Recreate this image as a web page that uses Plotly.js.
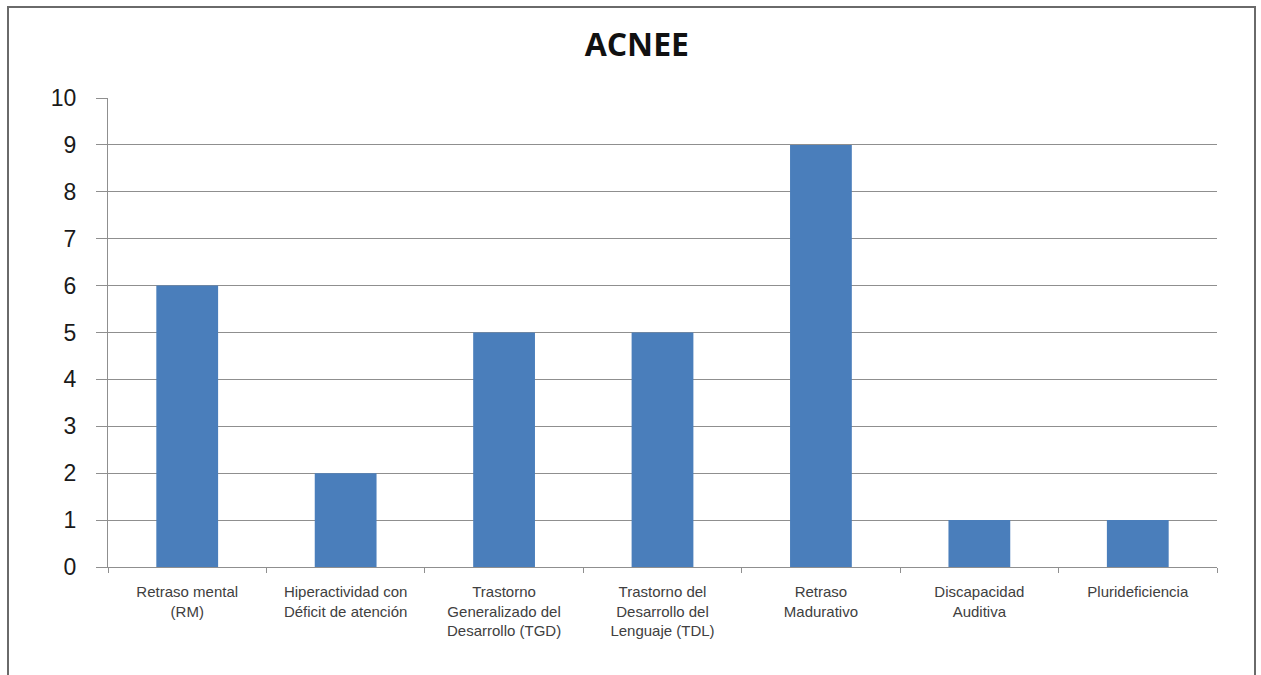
<!DOCTYPE html>
<html>
<head>
<meta charset="utf-8">
<script src="https://cdn.plot.ly/plotly-3.0.1.min.js"></script>
<style>
html,body{margin:0;padding:0;background:#fff;}
#wrap{position:relative;width:1261px;height:675px;overflow:hidden;}
#frame{position:absolute;left:7px;top:6px;width:1249px;height:700px;border:2px solid #6a6a6a;box-sizing:border-box;pointer-events:none;}
</style>
</head>
<body>
<div id="wrap">
<div id="chart" style="width:1261px;height:675px;"></div>
<div id="frame"></div>
</div>
<script>
const categories = [
  "Retraso mental<br>(RM)",
  "Hiperactividad con<br>Déficit de atención",
  "Trastorno<br>Generalizado del<br>Desarrollo (TGD)",
  "Trastorno del<br>Desarrollo del<br>Lenguaje (TDL)",
  "Retraso<br>Madurativo",
  "Discapacidad<br>Auditiva",
  "Pluridefi" + "ciencia"
];
const values = [6, 2, 5, 5, 9, 1, 1];
const yTicks = [0,1,2,3,4,5,6,7,8,9,10];
const chartTitle = "ACNEE";

const data = [{
  type: "bar",
  x: categories,
  y: values,
  marker: {color: "#4a7ebb", line: {width: 0}},
  hoverinfo: "x+y"
}];

const layout = {
  width: 1261, height: 675,
  margin: {l: 108, r: 44, t: 98, b: 108, pad: 0},
  paper_bgcolor: "#ffffff",
  plot_bgcolor: "#ffffff",
  showlegend: false,
  bargap: 0.61,
  title: {
    text: "<b>" + chartTitle + "</b>",
    font: {family: "Open Sans, Arial, sans-serif", size: 32, color: "#111"},
    x: 0.505, xanchor: "center", y: 0.933, yanchor: "middle"
  },
  xaxis: {
    type: "category",
    tickson: "boundaries",
    ticks: "outside", ticklen: 5, tickcolor: "#8f8f8f", tickwidth: 1,
    showline: true, linecolor: "#8f8f8f", linewidth: 1,
    showgrid: false,
    tickfont: {family: "Liberation Sans, Arial, sans-serif", size: 15, color: "#404040"},
    tickangle: 0,
    ticklabelstandoff: 11,
    fixedrange: true
  },
  yaxis: {
    range: [0, 10],
    tickvals: yTicks,
    ticktext: yTicks.map(String),
    ticks: "outside", ticklen: 11, tickcolor: "#8f8f8f", tickwidth: 1,
    showline: true, linecolor: "#8f8f8f", linewidth: 1,
    showgrid: true, gridcolor: "#8f8f8f", gridwidth: 1,
    zeroline: false,
    tickfont: {family: "Liberation Sans, Arial, sans-serif", size: 23, color: "#1a1a1a"},
    ticklabelstandoff: 15,
    fixedrange: true
  }
};

Plotly.newPlot("chart", data, layout, {displayModeBar: false, staticPlot: true});
</script>
</body>
</html>
